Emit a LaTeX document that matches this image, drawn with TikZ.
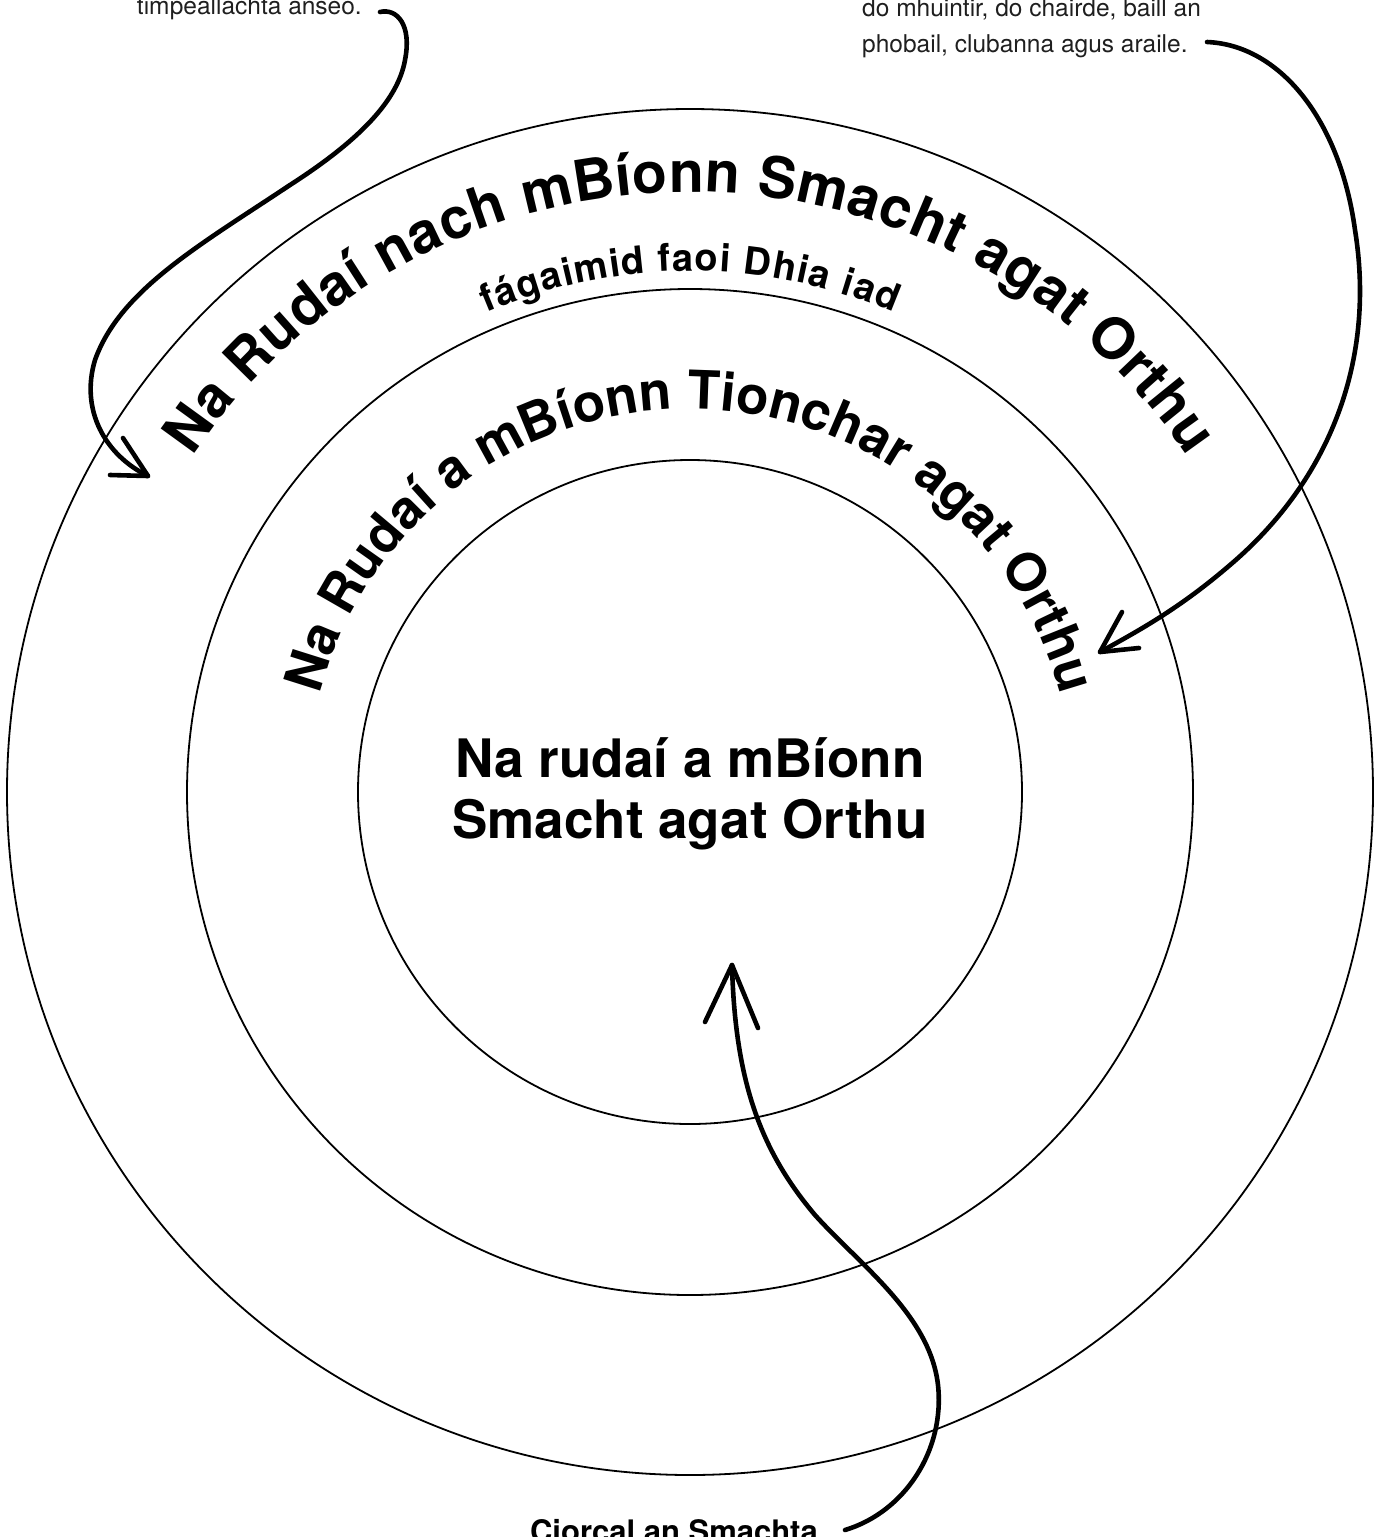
\documentclass[tikz,border=0pt]{standalone}
\usepackage{fontspec}
\setmainfont{TeX Gyre Heros}
\usetikzlibrary{decorations.text}
\begin{document}
\begin{tikzpicture}[x=1pt,y=-1pt,
  ring/.style={draw=black, line width=1.8pt},
  arrowline/.style={draw=black, line width=4.6pt, line cap=round, line join=round},
  notetext/.style={font=\fontsize{24.5}{36}\selectfont, inner sep=0pt, text=black!88},
  centretext/.style={font=\fontsize{53}{61}\selectfont\bfseries, inner sep=0pt},
  captext/.style={font=\fontsize{31}{36}\selectfont\bfseries, inner sep=0pt}
]
\useasboundingbox (0,0) rectangle (1383,1537);
\fill[white] (0,0) rectangle (1383,1537);
\coordinate (C) at (690,792);
% rings
\draw[ring] (C) circle (683);
\draw[ring] (C) circle (503);
\draw[ring] (C) circle (332);
% curved texts
\begin{scope}[shift={(C)}, y=1pt]
  \path[decorate, decoration={text along path, text align=fit to path,
    text={|\fontsize{57}{62}\selectfont\bfseries|Na Rudaí nach mBíonn Smacht agat Orthu}}]
    (146:600) arc[start angle=146, end angle=34, radius=600];
  \path[decorate, decoration={text along path, text align=fit to path,
    text={|\fontsize{38}{44}\selectfont\bfseries|fágaimid faoi Dhia iad}}]
    (113:521) arc[start angle=113, end angle=67, radius=521];
  \path[decorate, decoration={text along path, text align=fit to path,
    text={|\fontsize{53}{60}\selectfont\bfseries|Na Rudaí a mBíonn Tionchar agat Orthu}}]
    (165.3:383) arc[start angle=165.3, end angle=14.7, radius=383];
\end{scope}
% centre text
\node[centretext, anchor=base] (mid1) at (690,777) {Na rudaí a mBíonn};
\node[centretext, anchor=base] (mid2) at (690,838) {Smacht agat Orthu};
% notes
\node[notetext, anchor=base east] (noteL) at (362,14) {timpeallachta anseo.};
\node[notetext, anchor=base west] (noteR1) at (862,16) {do mhuintir, do chairde, baill an};
\node[notetext, anchor=base west] (noteR2) at (862,52) {phobail, clubanna agus araile.};
\node[captext, anchor=base] (cap) at (674,1542) {Ciorcal an Smachta};
% arrow 1
\coordinate (a1s) at (380,12);
\coordinate (a1t) at (148,476);
\coordinate (a1l) at (110,475);
\coordinate (a1r) at (123,438);
\draw[arrowline] (a1s) .. controls (397,8) and (412,25) .. (405,60)
  .. controls (398,100) and (360,140) .. (290,185)
  .. controls (200,245) and (120,290) .. (95,360)
  .. controls (80,410) and (105,455) .. (a1t);
\draw[arrowline] (a1l) -- (a1t) -- (a1r);
% arrow 2
\coordinate (a2s) at (1207,42);
\coordinate (a2t) at (1100,652);
\coordinate (a2l) at (1139,648);
\coordinate (a2r) at (1122,612);
\draw[arrowline] (a2s) .. controls (1280,45) and (1340,120) .. (1355,230)
  .. controls (1376,360) and (1330,480) .. (1230,565)
  .. controls (1180,608) and (1140,630) .. (a2t);
\draw[arrowline] (a2l) -- (a2t) -- (a2r);
% arrow 3
\coordinate (a3s) at (845,1530);
\coordinate (a3t) at (732,965);
\coordinate (a3l) at (705,1022);
\coordinate (a3r) at (758,1028);
\draw[arrowline] (a3s) .. controls (905,1512) and (945,1450) .. (938,1385)
  .. controls (930,1315) and (860,1265) .. (815,1215)
  .. controls (760,1150) and (735,1080) .. (a3t);
\draw[arrowline] (a3l) -- (a3t) -- (a3r);
\end{tikzpicture}
\end{document}
